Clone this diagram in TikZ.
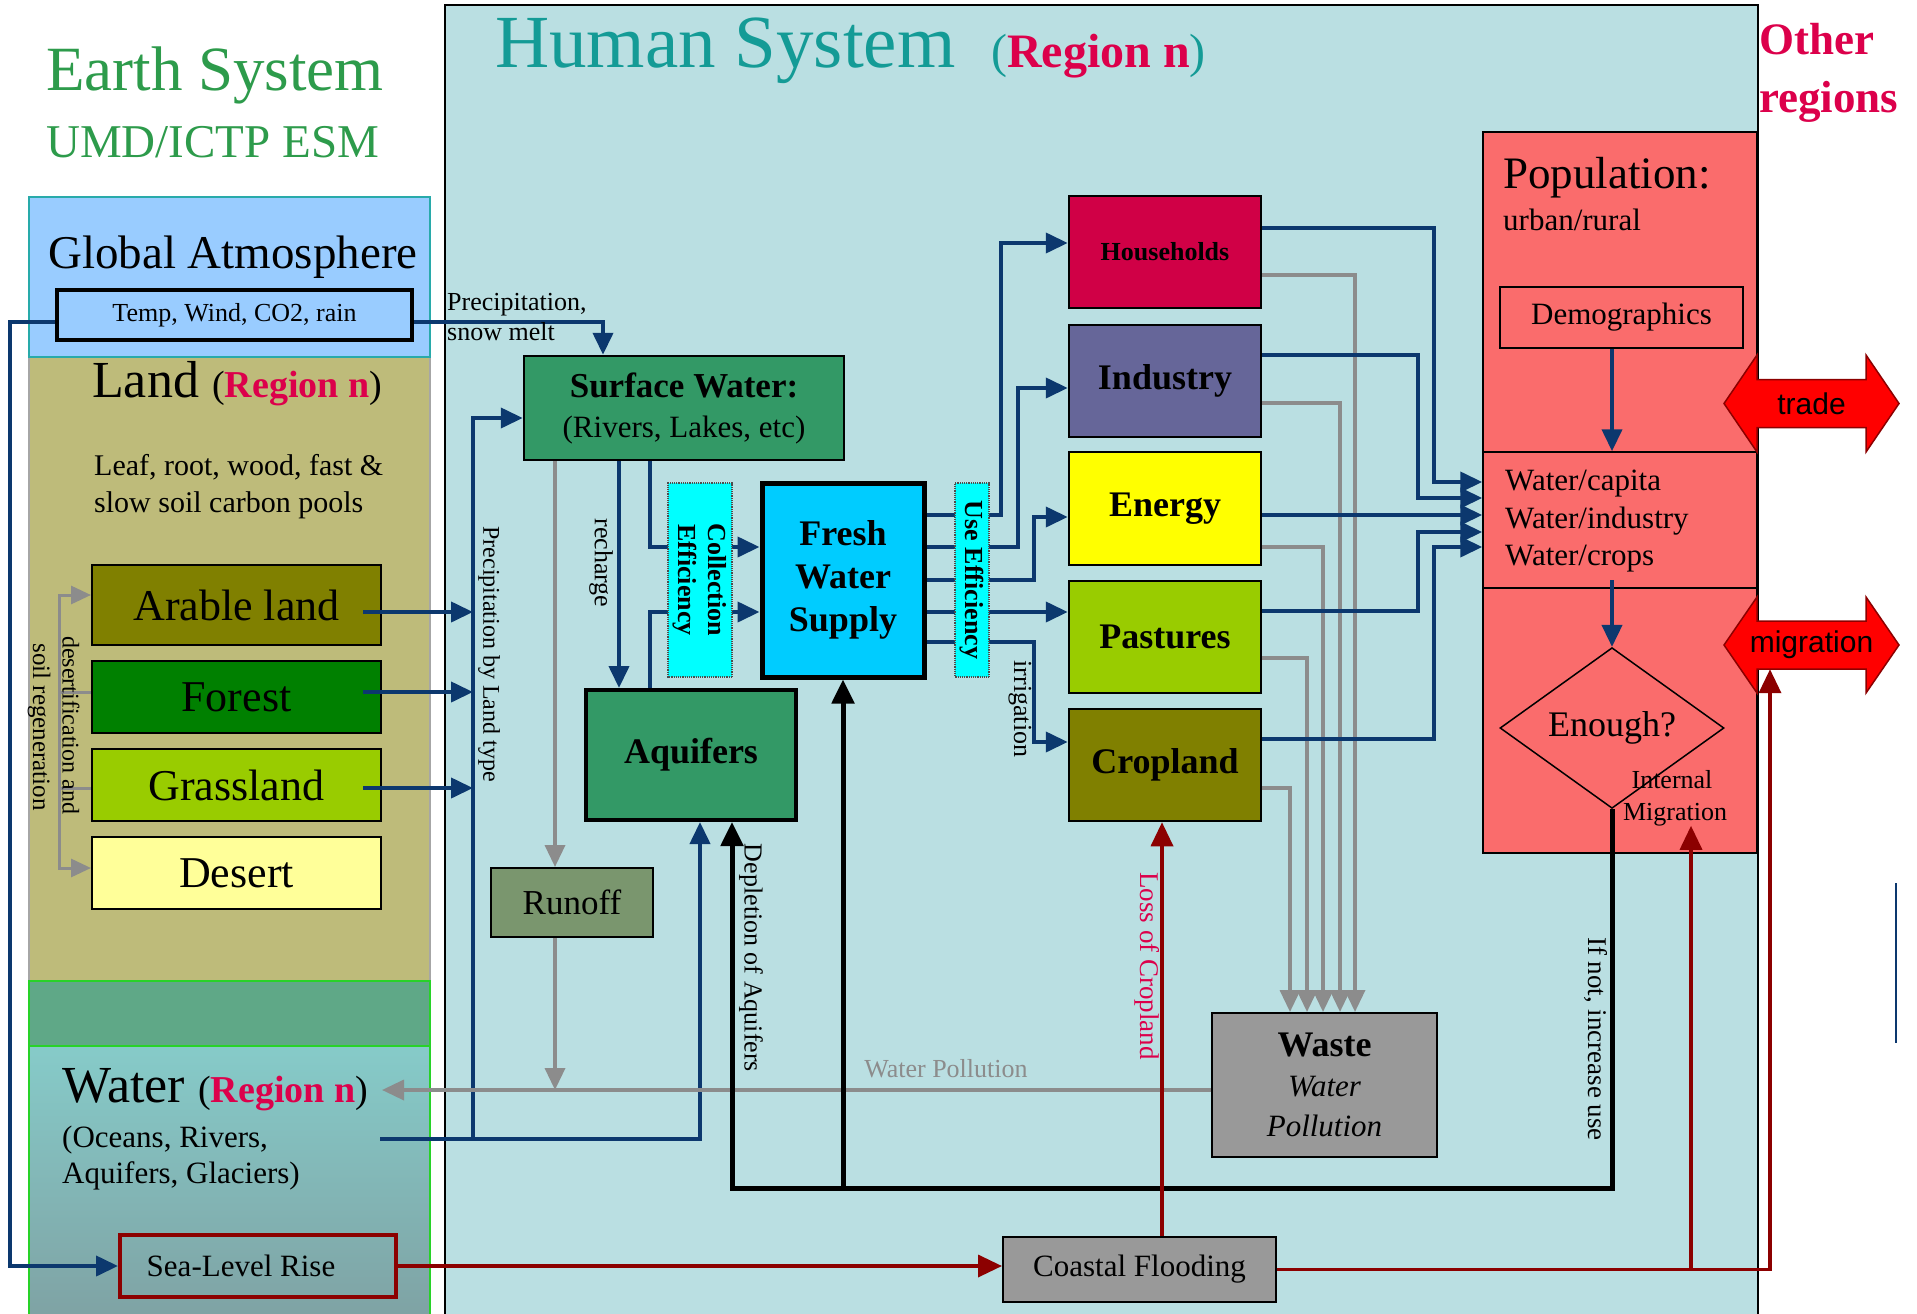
\documentclass[tikz,border=0pt]{standalone}
\usepackage{fontspec}
\setmainfont{Liberation Serif}
\newfontfamily\sansf{Liberation Sans}
\usetikzlibrary{arrows.meta,shapes.geometric}
\newcommand\fs[2]{\fontsize{#1}{#2}\selectfont}
\definecolor{navyC}{RGB}{12,56,110}
\definecolor{grayC}{RGB}{140,140,140}
\definecolor{dredC}{RGB}{140,0,0}
\definecolor{atmC}{RGB}{153,204,255}
\definecolor{atmB}{RGB}{40,170,170}
\definecolor{landC}{RGB}{190,187,122}
\definecolor{bandC}{RGB}{95,168,135}
\definecolor{waterTop}{RGB}{134,203,201}
\definecolor{waterBot}{RGB}{126,158,160}
\definecolor{greenB}{RGB}{40,210,40}
\definecolor{humBg}{RGB}{186,223,226}
\definecolor{popF}{RGB}{250,108,108}
\definecolor{swC}{RGB}{51,153,102}
\definecolor{runC}{RGB}{122,150,110}
\definecolor{fwsC}{RGB}{0,204,255}
\definecolor{cyanC}{RGB}{0,255,255}
\definecolor{hhC}{RGB}{208,0,70}
\definecolor{indC}{RGB}{102,102,153}
\definecolor{enC}{RGB}{255,255,0}
\definecolor{pasC}{RGB}{153,204,0}
\definecolor{cropC}{RGB}{128,128,0}
\definecolor{wasteC}{RGB}{153,153,153}
\definecolor{arC}{RGB}{128,128,0}
\definecolor{foC}{RGB}{0,128,0}
\definecolor{deC}{RGB}{255,255,153}
\definecolor{earthG}{RGB}{45,155,75}
\definecolor{humTeal}{RGB}{20,155,150}
\definecolor{regR}{RGB}{220,0,75}
\definecolor{tradeR}{RGB}{255,0,0}
\begin{document}
\begin{tikzpicture}[x=1pt,y=-1pt,
  nv/.style={draw=navyC, line width=4pt, -{Triangle[length=22pt,width=20pt]}},
  gy/.style={draw=grayC, line width=3.5pt, -{Triangle[length=22pt,width=20pt]}},
  gyb/.style={draw=grayC, line width=3pt},
  bk/.style={draw=black, line width=5pt, -{Triangle[length=24pt,width=22pt]}},
  dr/.style={draw=dredC, line width=3.5pt, -{Triangle[length=24pt,width=22pt]}},
  box/.style={draw=black, line width=2pt, inner sep=0pt, align=center},
  region/.style={inner sep=0pt, anchor=north west, minimum width=401pt},
  lbl/.style={inner sep=0pt},
  vlbl/.style={inner sep=0pt, rotate=-90},
  effbox/.style={fill=cyanC, draw=black!70, line width=1.2pt, densely dotted, inner sep=0pt, rotate=-90, align=center, minimum width=194pt}
]
\useasboundingbox (0,0) rectangle (1917,1314);
\clip (0,0) rectangle (1917,1314);
\fill[white] (0,0) rectangle (1917,1314);

% ---------- Backgrounds ----------
\node[draw=black, line width=2pt, fill=humBg, inner sep=0pt, anchor=north west,
      minimum width=1313pt, minimum height=1340pt] (human) at (444,4) {};
\node[region, fill=landC, draw=gray!70, line width=1.5pt, minimum height=624pt] (land) at (28,356) {};
\node[region, fill=bandC, draw=greenB, line width=2pt, minimum height=65pt] (band) at (28,980) {};
\node[region, top color=waterTop, bottom color=waterBot, draw=greenB, line width=2pt, minimum height=300pt] (water) at (28,1045) {};
\node[region, fill=atmC, draw=atmB, line width=1.5pt, minimum height=160pt] (atm) at (28,196) {};

% ---------- Guide coordinates ----------
\coordinate (yTp) at (0,322);
\coordinate (xArr) at (603,0);
\coordinate (xLeft) at (10,0);
\coordinate (xPl) at (473,418);
\coordinate (xLs) at (363,0);
\coordinate (yLa) at (0,612);
\coordinate (yLf) at (0,692);
\coordinate (yLg) at (0,788);
\coordinate (wout) at (380,1139);
\coordinate (aqin) at (700,0);
\coordinate (xRun) at (555,0);
\coordinate (wpy) at (0,1090);
\coordinate (wtip) at (382,0);
\coordinate (xRch) at (619,0);
\coordinate (xCol) at (650,0);
\coordinate (yC1) at (0,547);
\coordinate (yC2) at (0,612);
\coordinate (yO1) at (0,515);
\coordinate (yO3) at (0,580);
\coordinate (yO5) at (0,642);
\coordinate (xH) at (1001,0);
\coordinate (xI) at (1018,0);
\coordinate (xE) at (1034,0);
\coordinate (yHh) at (0,243);
\coordinate (yIn) at (0,388);
\coordinate (yEn) at (0,517);
\coordinate (yCr) at (0,742);
\coordinate (yA1) at (0,482);
\coordinate (yA2) at (0,498);
\coordinate (yA3) at (0,515);
\coordinate (yA4) at (0,532);
\coordinate (yA5) at (0,547);
\coordinate (yHo) at (0,228);
\coordinate (yIo) at (0,355);
\coordinate (yPo) at (0,611);
\coordinate (yCo) at (0,739);
\coordinate (xP1) at (1418,0);
\coordinate (xP2) at (1434,0);
\coordinate (yHg) at (0,275);
\coordinate (yIg) at (0,403);
\coordinate (yEg) at (0,547);
\coordinate (yPg) at (0,658);
\coordinate (yCg) at (0,788);
\coordinate (xG1) at (1290,0);
\coordinate (xG2) at (1307,0);
\coordinate (xG3) at (1323,0);
\coordinate (xG4) at (1340,0);
\coordinate (xG5) at (1355,0);
\coordinate (xPop) at (1612,0);
\coordinate (yWc) at (0,580);
\coordinate (yBl) at (0,1188);
\coordinate (xDep) at (732,0);
\coordinate (xLc) at (1162,0);
\coordinate (xMg) at (1770,0);
\coordinate (xIm) at (1691,0);
\coordinate (xD) at (59,0);
\coordinate (yDa) at (0,595);
\coordinate (yDd) at (0,868);
\coordinate (yDf) at (0,692);
\coordinate (yDg) at (0,788);

% ---------- Boxes ----------
\node[box, fill=atmC, line width=4pt, minimum width=355pt, minimum height=50pt, font=\fs{26}{30}] (temp) at (234.5,315) {Temp, Wind, CO2, rain};
\node[box, fill=arC, minimum width=289pt, minimum height=80pt, font=\fs{44}{50}] (arable) at (236.5,605) {Arable land};
\node[box, fill=foC, minimum width=289pt, minimum height=72pt, font=\fs{44}{50}] (forest) at (236.5,697) {Forest};
\node[box, fill=pasC, minimum width=289pt, minimum height=72pt, font=\fs{44}{50}] (grass) at (236.5,785) {Grassland};
\node[box, fill=deC, minimum width=289pt, minimum height=72pt, font=\fs{44}{50}] (desert) at (236.5,873) {Desert};
\node[box, draw=dredC, line width=4pt, minimum width=276pt, minimum height=62pt, font=\fs{31}{36}] (slr) at (258,1266) {\hspace*{-34pt}Sea-Level Rise};

\node[box, fill=swC, line width=2.5pt, minimum width=320pt, minimum height=104pt, font=\fs{31}{40}] (sw) at (684,408) {{\fontsize{35}{40}\selectfont\bfseries Surface Water:}\\(Rivers, Lakes, etc)};
\node[box, fill=runC, minimum width=162pt, minimum height=69pt, font=\fs{35}{40}] (runoff) at (572,902.5) {Runoff};
\node[box, fill=swC, line width=4pt, minimum width=210pt, minimum height=130pt, font=\fs{36}{40}\bfseries] (aq) at (691,755) {Aquifers};
\node[box, fill=fwsC, line width=5pt, minimum width=162pt, minimum height=194pt, font=\fs{36}{43}\bfseries] (fws) at (843,580) {Fresh\\Water\\Supply};

\node[box, fill=hhC, line width=2.5pt, minimum width=192pt, minimum height=112pt, font=\fs{26}{30}\bfseries] (hh) at (1165,252) {Households};
\node[box, fill=indC, line width=2.5pt, minimum width=192pt, minimum height=112pt, font=\fs{36}{40}\bfseries] (ind) at (1165,381) {Industry};
\node[box, fill=enC, line width=2.5pt, minimum width=192pt, minimum height=113pt, font=\fs{36}{40}\bfseries] (en) at (1165,508.5) {Energy};
\node[box, fill=pasC, line width=2.5pt, minimum width=192pt, minimum height=112pt, font=\fs{36}{40}\bfseries] (pas) at (1165,637) {Pastures};
\node[box, fill=cropC, line width=2.5pt, minimum width=192pt, minimum height=112pt, font=\fs{36}{40}\bfseries] (crop) at (1165,765) {Cropland};

\node[box, fill=wasteC, minimum width=225pt, minimum height=144pt, font=\fs{31}{40}] (waste) at (1324.5,1085) {{\fontsize{36}{40}\selectfont\bfseries Waste}\\\itshape Water\\\itshape Pollution};
\node[box, fill=wasteC, minimum width=273pt, minimum height=65pt, font=\fs{31}{36}] (cf) at (1139.5,1269.5) {Coastal Flooding};

\node[box, fill=popF, line width=1.5pt, minimum width=274pt, minimum height=320pt] (popA) at (1620,292) {};
\node[box, fill=popF, line width=1.5pt, minimum width=274pt, minimum height=136pt] (popB) at (1620,520) {};
\node[box, fill=popF, line width=1.5pt, minimum width=274pt, minimum height=265pt] (popC) at (1620,720.5) {};
\node[box, fill=popF, line width=1.5pt, minimum width=243pt, minimum height=61pt, font=\fs{31}{36}] (demo) at (1621.5,317.5) {Demographics};
\node[diamond, draw=black, fill=popF, line width=1.5pt, inner sep=0pt, minimum width=224pt, minimum height=110pt, font=\fs{36}{40}] (enough) at (1612,728) {Enough?};

% ---------- Connectors ----------
% atmosphere
\draw[nv] (temp.east |- yTp) -- (yTp -| xArr) -- (sw.north -| xArr);
\draw[nv] (temp.west |- yTp) -- (yTp -| xLeft) -- (slr.west -| xLeft) -- (slr.west);
% land types -> precipitation by land type
\draw[nv] (yLa -| xLs) -- (yLa -| xPl);
\draw[nv] (yLf -| xLs) -- (yLf -| xPl);
\draw[nv] (yLg -| xLs) -- (yLg -| xPl);
\draw[nv] (wout -| xPl) -- (xPl) -- (xPl -| sw.west);
% water -> aquifers
\draw[nv] (wout) -- (wout -| aqin) -- (aq.south -| aqin);
% desertification bracket
\draw[gyb, {Triangle[length=20pt,width=18pt]}-{Triangle[length=20pt,width=18pt]}] (yDa -| arable.west) -- (yDa -| xD) -- (yDd -| xD) -- (yDd -| desert.west);
\draw[gyb] (yDf -| xD) -- (yDf -| forest.west);
\draw[gyb] (yDg -| xD) -- (yDg -| grass.west);
% runoff & pollution
\draw[gy] (sw.south -| xRun) -- (runoff.north -| xRun);
\draw[gy] (runoff.south -| xRun) -- (wpy -| xRun);
\draw[gy] (waste.west |- wpy) -- (wpy -| wtip);
% recharge
\draw[nv] (sw.south -| xRch) -- (aq.north -| xRch);
% collection
\draw[nv] (sw.south -| xCol) -- (yC1 -| xCol) -- (yC1 -| fws.west);
\draw[nv] (aq.north -| xCol) -- (yC2 -| xCol) -- (yC2 -| fws.west);
% fresh water outputs
\draw[nv] (yO1 -| fws.east) -- (yO1 -| xH) -- (yHh -| xH) -- (yHh -| hh.west);
\draw[nv] (yC1 -| fws.east) -- (yC1 -| xI) -- (yIn -| xI) -- (yIn -| ind.west);
\draw[nv] (yO3 -| fws.east) -- (yO3 -| xE) -- (yEn -| xE) -- (yEn -| en.west);
\draw[nv] (yC2 -| fws.east) -- (yC2 -| pas.west);
\draw[nv] (yO5 -| fws.east) -- (yO5 -| xE) -- (yCr -| xE) -- (yCr -| crop.west);
% waste lines
\draw[gy] (yHg -| hh.east) -- (yHg -| xG5) -- (waste.north -| xG5);
\draw[gy] (yIg -| ind.east) -- (yIg -| xG4) -- (waste.north -| xG4);
\draw[gy] (yEg -| en.east) -- (yEg -| xG3) -- (waste.north -| xG3);
\draw[gy] (yPg -| pas.east) -- (yPg -| xG2) -- (waste.north -| xG2);
\draw[gy] (yCg -| crop.east) -- (yCg -| xG1) -- (waste.north -| xG1);
% sectors -> population
\draw[nv] (yHo -| hh.east) -- (yHo -| xP2) -- (yA1 -| xP2) -- (yA1 -| popB.west);
\draw[nv] (yIo -| ind.east) -- (yIo -| xP1) -- (yA2 -| xP1) -- (yA2 -| popB.west);
\draw[nv] (yA3 -| en.east) -- (yA3 -| popB.west);
\draw[nv] (yPo -| pas.east) -- (yPo -| xP1) -- (yA4 -| xP1) -- (yA4 -| popB.west);
\draw[nv] (yCo -| crop.east) -- (yCo -| xP2) -- (yA5 -| xP2) -- (yA5 -| popB.west);
% population internal
\draw[nv] (demo.south -| xPop) -- (popB.north -| xPop);
\draw[nv] (yWc -| xPop) -- (enough.north);
% black: if not, increase use
\draw[bk] (enough.south) -- (yBl -| xPop) -- (yBl -| xDep) -- (aq.south -| xDep);
\draw[bk] (yBl -| fws.south) -- (fws.south);

% ---------- efficiency boxes (over lines) ----------
\node[effbox, minimum height=64pt, font=\fs{26}{30}\bfseries] (ce) at (700,580) {Collection\\Efficiency};
\node[effbox, minimum height=34pt, font=\fs{26}{30}\bfseries] (ue) at (972,580) {Use Efficiency};

% ---------- trade / migration arrows ----------
\filldraw[fill=tradeR, draw=dredC, line width=1.5pt] (1724,403.5) -- (1757,355) -- (1757,379.5) -- (1866,379.5) -- (1866,355) -- (1899,403.5) -- (1866,452) -- (1866,427.5) -- (1757,427.5) -- (1757,452) -- cycle;
\filldraw[fill=tradeR, draw=dredC, line width=1.5pt] (1724,645) -- (1757,597) -- (1757,621) -- (1866,621) -- (1866,597) -- (1899,645) -- (1866,693) -- (1866,669) -- (1757,669) -- (1757,693) -- cycle;
\node[inner sep=0pt, minimum width=109pt, minimum height=48pt, font=\sansf\fs{30}{34}] (tradebox) at (1811.5,403.5) {trade};
\node[inner sep=0pt, minimum width=109pt, minimum height=48pt, font=\sansf\fs{30}{34}] (migbox) at (1811.5,645) {migration};

% ---------- text labels ----------
\node[lbl, anchor=base west, text=earthG, font=\fs{63}{70}] (earth1) at (46,90) {Earth System};
\node[lbl, anchor=base west, text=earthG, font=\fs{47}{55}] (earth2) at (46,157) {UMD/ICTP ESM};
\node[lbl, anchor=base west, font=\fs{47}{55}] (atmT) at (48,268) {Global Atmosphere};
\node[lbl, anchor=base west, font=\fs{52}{60}] (landT) at (92,397) {Land {\fontsize{38}{45}\selectfont(\textcolor{regR}{\bfseries Region n})}};
\node[lbl, anchor=base west, font=\fs{30}{37}] (leaf1) at (94,475) {Leaf, root, wood, fast \&};
\node[lbl, anchor=base west, font=\fs{30}{37}] (leaf2) at (94,512) {slow soil carbon pools};
\node[lbl, anchor=base west, font=\fs{52}{60}] (waterT) at (62,1102) {Water {\fontsize{38}{45}\selectfont(\textcolor{regR}{\bfseries Region n})}};
\node[lbl, anchor=base west, font=\fs{31}{36}] (ocean1) at (62,1147) {(Oceans, Rivers,};
\node[lbl, anchor=base west, font=\fs{31}{36}] (ocean2) at (62,1183) {Aquifers, Glaciers)};

\node[lbl, anchor=base west, text=humTeal, font=\fs{75}{90}] (humT) at (495,67) {Human System};
\node[lbl, anchor=base west, text=humTeal, font=\fs{48}{58}] (humR) at (991,67) {(\textcolor{regR}{\bfseries Region n})};
\node[lbl, anchor=base west, text=regR, font=\fs{45}{52}\bfseries] (other1) at (1759,55) {Other};
\node[lbl, anchor=base west, text=regR, font=\fs{45}{52}\bfseries] (other2) at (1759,112) {regions};

\node[lbl, anchor=base west, font=\fs{45}{52}] (popT) at (1503,188) {Population:};
\node[lbl, anchor=base west, font=\fs{31}{36}] (urbT) at (1503,230) {urban/rural};
\node[lbl, anchor=base west, font=\fs{31}{36}] (wcap) at (1505,490) {Water/capita};
\node[lbl, anchor=base west, font=\fs{31}{36}] (wind) at (1505,528) {Water/industry};
\node[lbl, anchor=base west, font=\fs{31}{36}] (wcrop) at (1505,565) {Water/crops};
\node[lbl, anchor=base, font=\fs{26}{30}] (intmig1) at (1672,788) {Internal};
\node[lbl, anchor=base, font=\fs{26}{30}] (intmig2) at (1675,820) {Migration};

\node[lbl, anchor=base west, font=\fs{26}{30}] (prec1) at (447,310) {Precipitation,};
\node[lbl, anchor=base west, font=\fs{26}{30}] (prec2) at (447,340) {snow melt};
\node[lbl, anchor=base, text=grayC, font=\fs{26}{30}] (wpT) at (946,1077) {Water Pollution};

\node[vlbl, font=\fs{24}{28}] (precLT) at (489,654) {Precipitation by Land type};
\node[vlbl, font=\fs{26}{30}] (rechT) at (601,563) {recharge};
\node[vlbl, font=\fs{24}{28}] (desT) at (71,725) {desertification and};
\node[vlbl, font=\fs{25}{28}] (soilT) at (39,727) {soil regeneration};
\node[vlbl, font=\fs{26}{30}] (irrT) at (1020,709) {irrigation};
\node[vlbl, font=\fs{26}{30}] (depT) at (751,958) {Depletion of Aquifers};
\node[vlbl, text=regR, font=\fs{27}{30}] (lossT) at (1147,966) {Loss of Cropland};
\node[vlbl, font=\fs{27}{30}] (ifnT) at (1596,1039) {If not, increase use};

% ---------- dark red connectors ----------
\draw[dr] (slr.east) -- (slr.east -| cf.west);
\draw[dr] (cf.north -| xLc) -- (crop.south -| xLc);
\draw[dr] (cf.east) -- (cf.east -| xMg) -- (migbox.south -| xMg);
\draw[dr] (cf.east -| xIm) -- (intmig2.south -| xIm);

% stray navy mark at right edge
\draw[navyC, line width=2.5pt] (1896,883) -- (1896,1043);
\end{tikzpicture}
\end{document}
